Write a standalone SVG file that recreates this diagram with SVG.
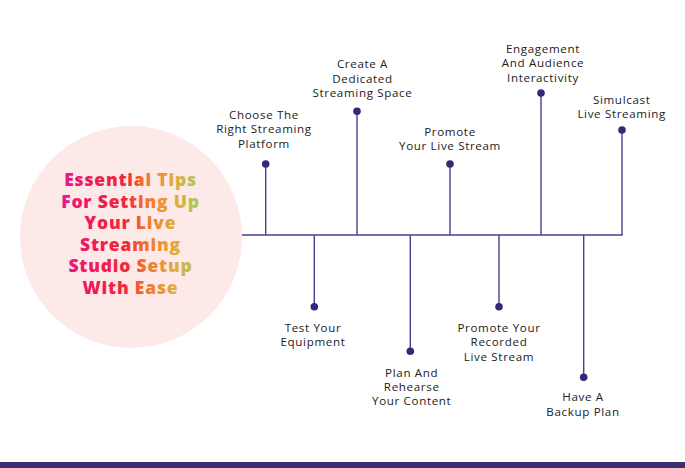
<svg xmlns="http://www.w3.org/2000/svg" width="685" height="468" viewBox="0 0 685 468">
<defs>
<linearGradient id="tg" gradientUnits="userSpaceOnUse" x1="60" y1="0" x2="200" y2="0">
<stop offset="0" stop-color="#ec1595"/>
<stop offset="0.22" stop-color="#f0185a"/>
<stop offset="0.48" stop-color="#f02a38"/>
<stop offset="0.6" stop-color="#f2702e"/>
<stop offset="0.8" stop-color="#e4a83a"/>
<stop offset="1" stop-color="#a8cc58"/>
</linearGradient>
<style>
.lbl{font-family:"Open Sans","Noto Sans",sans-serif;font-weight:500;font-size:11.6px;fill:#222222;text-anchor:middle;letter-spacing:0.65px}
.ttl{font-family:"Open Sans","Noto Sans",sans-serif;font-weight:800;font-size:17.5px;fill:url(#tg);text-anchor:middle;letter-spacing:0.8px}
.stem{stroke:#4a3f8e;stroke-width:1.4;fill:none}
.dot{fill:#352877}
</style>
</defs>
<rect width="685" height="468" fill="#ffffff"/>
<g id="title">
<circle cx="131" cy="237" r="111" fill="#fde9e7"/>
<text class="ttl" x="130.5" y="186">Essential Tips</text>
<text class="ttl" x="130.5" y="207.6">For Setting Up</text>
<text class="ttl" x="130.5" y="229.2">Your Live</text>
<text class="ttl" x="130.5" y="250.8">Streaming</text>
<text class="ttl" x="130.5" y="272.4">Studio Setup</text>
<text class="ttl" x="130.5" y="294">With Ease</text>
</g>
<g id="connectors">
<line class="stem" x1="242" y1="235" x2="622.7" y2="235" stroke="#3a2d78"/>
<line class="stem" x1="265.7" y1="164" x2="265.7" y2="235"/>
<line class="stem" x1="357" y1="111" x2="357" y2="235"/>
<line class="stem" x1="450" y1="164" x2="450" y2="235"/>
<line class="stem" x1="541" y1="93" x2="541" y2="235"/>
<line class="stem" x1="622" y1="130" x2="622" y2="235"/>
<line class="stem" x1="314.3" y1="235" x2="314.3" y2="307"/>
<line class="stem" x1="410.3" y1="235" x2="410.3" y2="351"/>
<line class="stem" x1="499" y1="235" x2="499" y2="307"/>
<line class="stem" x1="583.7" y1="235" x2="583.7" y2="377"/>
</g>
<g id="n1"><circle class="dot" cx="265.7" cy="164" r="3.8"/>
<text class="lbl" x="264" y="119">Choose The</text><text class="lbl" x="264" y="133.3">Right Streaming</text><text class="lbl" x="264" y="147.6">Platform</text></g>
<g id="n2"><circle class="dot" cx="357" cy="111.3" r="3.8"/>
<text class="lbl" x="362.5" y="68.3">Create A</text><text class="lbl" x="362.5" y="82.6">Dedicated</text><text class="lbl" x="362.5" y="96.9">Streaming Space</text></g>
<g id="n3"><circle class="dot" cx="450" cy="164" r="3.8"/>
<text class="lbl" x="450" y="135.7">Promote</text><text class="lbl" x="450" y="150">Your Live Stream</text></g>
<g id="n4"><circle class="dot" cx="541" cy="93" r="3.8"/>
<text class="lbl" x="543" y="53">Engagement</text><text class="lbl" x="543" y="67.3">And Audience</text><text class="lbl" x="543" y="81.6">Interactivity</text></g>
<g id="n5"><circle class="dot" cx="622" cy="130" r="3.8"/>
<text class="lbl" x="621.7" y="104">Simulcast</text><text class="lbl" x="621.7" y="118.3">Live Streaming</text></g>
<g id="n6"><circle class="dot" cx="314.3" cy="306.7" r="3.8"/>
<text class="lbl" x="313" y="332">Test Your</text><text class="lbl" x="313" y="346.3">Equipment</text></g>
<g id="n7"><circle class="dot" cx="410.3" cy="351.3" r="3.8"/>
<text class="lbl" x="411.7" y="376.7">Plan And</text><text class="lbl" x="411.7" y="391">Rehearse</text><text class="lbl" x="411.7" y="405.3">Your Content</text></g>
<g id="n8"><circle class="dot" cx="499" cy="306.7" r="3.8"/>
<text class="lbl" x="499" y="332">Promote Your</text><text class="lbl" x="499" y="346.3">Recorded</text><text class="lbl" x="499" y="360.6">Live Stream</text></g>
<g id="n9"><circle class="dot" cx="583.7" cy="377.3" r="3.8"/>
<text class="lbl" x="583" y="401.3">Have A</text><text class="lbl" x="583" y="415.6">Backup Plan</text></g>
<rect x="0" y="462" width="685" height="6" fill="#3b2c74"/>
</svg>
